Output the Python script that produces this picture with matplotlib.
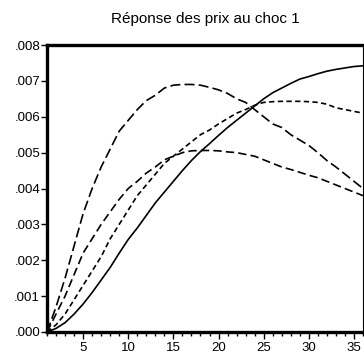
import matplotlib
matplotlib.use("Agg")
import matplotlib.pyplot as plt
from matplotlib.ticker import FuncFormatter, MultipleLocator
import numpy as np

plt.rcParams['font.family'] = ['Liberation Sans', 'DejaVu Sans']

periods = list(range(1, 37))

# solid line
resp_solid = [0.0, 0.0001, 0.00026, 0.0005, 0.00078, 0.0011, 0.00145, 0.0018, 0.0022,
              0.00258, 0.0029, 0.00325, 0.0036, 0.0039, 0.0042, 0.0045, 0.00478, 0.00503,
              0.00525, 0.00548, 0.0057, 0.0059, 0.0061, 0.0063, 0.0065, 0.00667, 0.0068,
              0.00693, 0.00705, 0.00712, 0.0072, 0.00727, 0.00732, 0.00736, 0.0074, 0.00742]
# long dashes
resp_long = [0.0, 0.0007, 0.0015, 0.0024, 0.0033, 0.0040, 0.0046, 0.0051, 0.0056,
             0.0059, 0.0062, 0.00645, 0.0066, 0.0068, 0.00688, 0.0069, 0.0069, 0.00688,
             0.00682, 0.00675, 0.00665, 0.0065, 0.0064, 0.0062, 0.0060, 0.0058, 0.0057,
             0.0055, 0.00535, 0.0052, 0.0050, 0.00478, 0.0046, 0.0044, 0.0042, 0.0040]
# medium dashes
resp_mid = [0.0, 0.0005, 0.001, 0.0016, 0.0022, 0.0026, 0.003, 0.00335, 0.0037,
            0.004, 0.0042, 0.00443, 0.0046, 0.0048, 0.0049, 0.005, 0.00505, 0.00506,
            0.00506, 0.00505, 0.00502, 0.005, 0.00495, 0.0049, 0.0048, 0.0047, 0.0046,
            0.00453, 0.00445, 0.00437, 0.0043, 0.0042, 0.0041, 0.0040, 0.0039, 0.0038]
# short dashes
resp_short = [0.0, 0.0002, 0.0005, 0.0009, 0.0013, 0.0017, 0.0021, 0.0026, 0.003,
              0.0034, 0.0038, 0.0041, 0.0044, 0.0047, 0.0049, 0.0051, 0.0053, 0.0055,
              0.00563, 0.0058, 0.00595, 0.0061, 0.0062, 0.00632, 0.0064, 0.00642, 0.00643,
              0.00643, 0.00643, 0.00642, 0.0064, 0.00635, 0.00625, 0.0062, 0.00615, 0.0061]

fig = plt.figure(figsize=(3.64, 3.64), dpi=100)
ax = fig.add_axes([47 / 364, 1 - 332 / 364, 316 / 364, 287 / 364])

lw = 1.2
ax.plot(periods, resp_solid, color='black', lw=lw, solid_capstyle='butt')
ax.plot(periods, resp_long, color='black', lw=lw, dashes=(6, 2.5), dash_capstyle='butt')
ax.plot(periods, resp_mid, color='black', lw=lw, dashes=(5, 2.5), dash_capstyle='butt')
ax.plot(periods, resp_short, color='black', lw=lw, dashes=(3.2, 2), dash_capstyle='butt')

ax.set_xlim(1, 36)
ax.set_ylim(0, 0.008)

ax.xaxis.set_major_locator(MultipleLocator(5))
ax.xaxis.set_minor_locator(MultipleLocator(1))
ax.yaxis.set_major_locator(MultipleLocator(0.001))
ax.yaxis.set_major_formatter(FuncFormatter(lambda v, p: ('%.3f' % v)[1:]))

ax.tick_params(axis='x', which='major', direction='out', length=5, width=1, labelsize=9.5, pad=2)
ax.tick_params(axis='x', which='minor', direction='out', length=3, width=1)
ax.tick_params(axis='y', which='major', direction='out', length=4, width=1, labelsize=9.5, pad=1)

ax.spines['left'].set_linewidth(2.4)
ax.spines['bottom'].set_linewidth(2.4)
ax.spines['top'].set_linewidth(2.4)
ax.spines['right'].set_linewidth(0.8)

ax.set_title('Réponse des prix au choc 1', fontsize=11, pad=16)

fig.savefig('out.png', dpi=100)
